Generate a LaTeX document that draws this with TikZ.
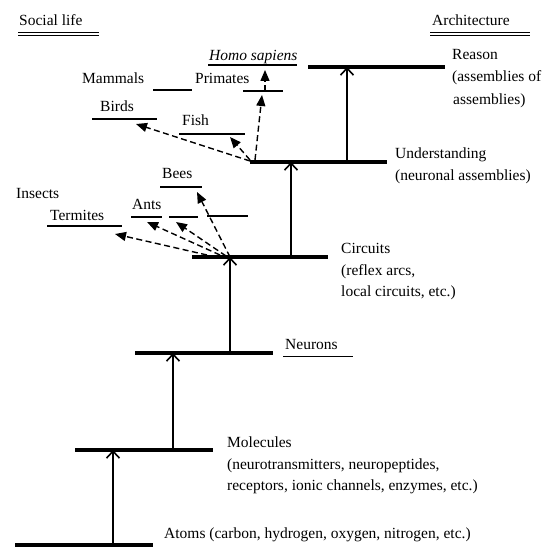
\documentclass[tikz,border=0pt]{standalone}
\usepackage{fontspec}
\setmainfont{Liberation Serif}
\usetikzlibrary{arrows.meta}
\begin{document}
\begin{tikzpicture}[x=1pt,y=-1pt,
  lbl/.style={anchor=base west, inner sep=0pt, font=\fontsize{15.5}{18}\selectfont},
  bigbar/.style={line width=4pt},
  smallbar/.style={line width=2pt},
  uparrow/.style={line width=1.3pt, -{Straight Barb[length=7pt,width=13pt,line width=1.6pt]}},
  dasharrow/.style={line width=1.4pt, dash pattern=on 6pt off 3.5pt, -{Triangle[length=11pt,width=9pt]}},
  ruleline/.style={line width=0.9pt}]
\useasboundingbox (0,0) rectangle (555,548);

% ---- level coordinates
\coordinate (atL) at (15,545);  \coordinate (atR) at (153,545);  \coordinate (atA) at (113,545);
\coordinate (moL) at (75,450);  \coordinate (moR) at (213,450);  \coordinate (moA) at (113,450); \coordinate (moB) at (173,450);
\coordinate (neL) at (135,353); \coordinate (neR) at (273,353); \coordinate (neA) at (173,353); \coordinate (neB) at (230,353);
\coordinate (ciL) at (192,257); \coordinate (ciR) at (328,257); \coordinate (ciA) at (230,257); \coordinate (ciB) at (291,257);
\coordinate (unL) at (250,162); \coordinate (unR) at (387,162); \coordinate (unA) at (291,162); \coordinate (unB) at (347,162);
\coordinate (reL) at (308,67);  \coordinate (reR) at (445,67);  \coordinate (reA) at (347,67);

% ---- solid ascending arrows
\draw[uparrow] (atA) -- (moA);
\draw[uparrow] (moB) -- (neA);
\draw[uparrow] (neB) -- (ciA);
\draw[uparrow] (ciB) -- (unA);
\draw[uparrow] (unB) -- (reA);

% ---- main bars
\draw[bigbar] (atL) -- (atR);
\draw[bigbar] (moL) -- (moR);
\draw[bigbar] (neL) -- (neR);
\draw[bigbar] (ciL) -- (ciR);
\draw[bigbar] (unL) -- (unR);
\draw[bigbar] (reL) -- (reR);

% ---- level labels
\node[lbl] (atoms) at (164,538) {Atoms (carbon, hydrogen, oxygen, nitrogen, etc.)};
\node[lbl] (mol1) at (227,448) {Molecules};
\node[lbl] (mol2) at (227,469) {(neurotransmitters, neuropeptides,};
\node[lbl] (mol3) at (227,490) {receptors, ionic channels, enzymes, etc.)};
\node[lbl] (neur) at (285,350) {Neurons};
\coordinate (nuL) at (283,356); \coordinate (nuR) at (353,356);
\draw[ruleline] (nuL) -- (nuR);
\node[lbl] (circ1) at (341,254) {Circuits};
\node[lbl] (circ2) at (341,276) {(reflex arcs,};
\node[lbl] (circ3) at (341,297) {local circuits, etc.)};
\node[lbl] (und1) at (395,159) {Understanding};
\node[lbl] (und2) at (395,181) {(neuronal assemblies)};
\node[lbl] (rea1) at (452,60) {Reason};
\node[lbl] (rea2) at (452,82) {(assemblies of};
\node[lbl] (rea3) at (453,105) {assemblies)};

% ---- headings
\node[lbl] (social) at (19,26) {Social life};
\coordinate (s1L) at (18,32); \coordinate (s1R) at (99,32);
\coordinate (s2L) at (18,35); \coordinate (s2R) at (99,35);
\draw[ruleline] (s1L) -- (s1R);
\draw[ruleline] (s2L) -- (s2R);
\node[lbl] (arch) at (432,26) {Architecture};
\coordinate (a1L) at (430,32); \coordinate (a1R) at (530,32);
\coordinate (a2L) at (430,35); \coordinate (a2R) at (530,35);
\draw[ruleline] (a1L) -- (a1R);
\draw[ruleline] (a2L) -- (a2R);

% ---- vertebrate branch
\node[lbl, font=\fontsize{15.5}{18}\selectfont\itshape] (homo) at (209,61) {Homo sapiens};
\coordinate (hoL) at (208,65); \coordinate (hoR) at (297,65); \coordinate (hoT) at (265,70);
\draw[smallbar] (hoL) -- (hoR);
\node[lbl] (prim) at (195,84) {Primates};
\coordinate (prL) at (243,91); \coordinate (prR) at (283,91); \coordinate (prS) at (265,91); \coordinate (prT) at (262,95);
\draw[smallbar] (prL) -- (prR);
\node[lbl] (mamm) at (82,84) {Mammals};
\coordinate (maL) at (153,90); \coordinate (maR) at (192,90);
\draw[smallbar] (maL) -- (maR);
\node[lbl] (birds) at (100,112) {Birds};
\coordinate (biL) at (92,119); \coordinate (biR) at (157,119); \coordinate (biT) at (136,124);
\draw[smallbar] (biL) -- (biR);
\node[lbl] (fish) at (182,126) {Fish};
\coordinate (fiL) at (179,134); \coordinate (fiR) at (245,134); \coordinate (fiT) at (230,137);
\draw[smallbar] (fiL) -- (fiR);

\coordinate (uS1) at (250,161); \coordinate (uS2) at (250,160); \coordinate (uS3) at (255,160);
\draw[dasharrow] (uS1) -- (biT);
\draw[dasharrow] (uS2) -- (fiT);
\draw[dasharrow] (uS3) -- (prT);
\draw[dasharrow] (prS) -- (hoT);

% ---- insect branch
\node[lbl] (bees) at (162,179) {Bees};
\coordinate (beL) at (160,187); \coordinate (beR) at (202,187); \coordinate (beT) at (197,192);
\draw[smallbar] (beL) -- (beR);
\node[lbl] (insects) at (16,199) {Insects};
\node[lbl] (term) at (50,221) {Termites};
\coordinate (teL) at (47,226); \coordinate (teR) at (122,226); \coordinate (teT) at (115,234);
\draw[smallbar] (teL) -- (teR);
\node[lbl] (ants) at (132,210) {Ants};
\coordinate (anL) at (131,217); \coordinate (anR) at (162,217); \coordinate (anT) at (147,222);
\draw[smallbar] (anL) -- (anR);
\coordinate (xaL) at (169,217); \coordinate (xaR) at (198,217); \coordinate (xaT) at (176,222);
\draw[smallbar] (xaL) -- (xaR);
\coordinate (xbL) at (207,216); \coordinate (xbR) at (248,216);
\draw[smallbar] (xbL) -- (xbR);

\coordinate (cS1) at (207,255); \coordinate (cS2) at (220,255); \coordinate (cS3) at (226,256); \coordinate (cS4) at (230,257);
\draw[dasharrow] (cS1) -- (teT);
\draw[dasharrow] (cS2) -- (anT);
\draw[dasharrow] (cS3) -- (xaT);
\draw[dasharrow] (cS4) -- (beT);
\end{tikzpicture}
\end{document}
